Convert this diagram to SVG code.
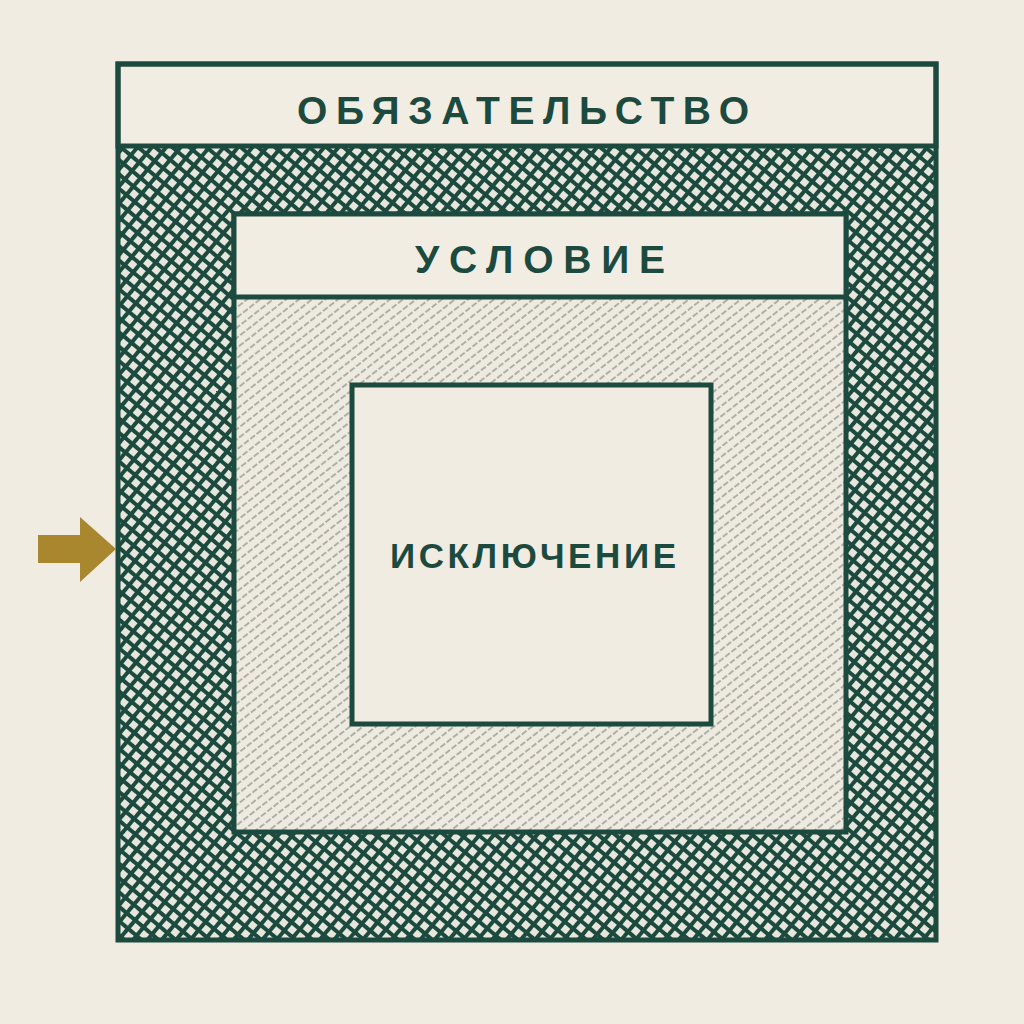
<svg xmlns="http://www.w3.org/2000/svg" width="1024" height="1024" viewBox="0 0 1024 1024">
<defs>
<pattern id="cross" width="11" height="11" patternUnits="userSpaceOnUse" patternTransform="rotate(40)">
<rect width="11" height="11" fill="#e6e6dc"/>
<rect x="0" y="0" width="11" height="4" fill="#1c4a3e"/>
<rect x="0" y="0" width="4" height="11" fill="#1c4a3e"/>
</pattern>
<pattern id="hatch" width="8" height="8" patternUnits="userSpaceOnUse" patternTransform="rotate(-38)">
<rect width="8" height="8" fill="#efeadf"/>
<line x1="0" y1="4" x2="8" y2="4" stroke="#2b4a42" stroke-width="1.1" stroke-dasharray="5 2 3 2" opacity="0.7"/>
</pattern>
<style>
.frame{stroke:#1c4a3e;stroke-width:5;}
.lbl{font-family:"Liberation Sans","Noto Sans",Arial,sans-serif;font-weight:bold;fill:#1c4a3e;font-size:39px;text-anchor:middle;}
</style>
</defs>
<rect width="1024" height="1024" fill="#f1ece1"/>
<g id="obligation">
<rect x="118" y="146" width="818" height="794" fill="url(#cross)"/>
<rect x="118" y="64" width="818" height="82" fill="#f2ede2" class="frame"/>
<rect x="118" y="64" width="818" height="876" fill="none" class="frame"/>
<text class="lbl" x="523" y="124" textLength="452" lengthAdjust="spacing">ОБЯЗАТЕЛЬСТВО</text>
</g>
<g id="condition">
<rect x="234" y="214" width="612" height="618" fill="url(#hatch)" class="frame"/>
<rect x="234" y="214" width="612" height="83" fill="#f2ede2" class="frame"/>
<text class="lbl" x="540" y="273" textLength="250" lengthAdjust="spacing">УСЛОВИЕ</text>
</g>
<g id="exception">
<rect x="352" y="385" width="359" height="339" fill="#f1ece1" class="frame"/>
<text class="lbl" x="533" y="568" style="font-size:35px" textLength="286" lengthAdjust="spacing">ИСКЛЮЧЕНИЕ</text>
</g>
<g id="connectors">
<polygon points="38,535 80,535 80,517 116,549 80,582 80,563 38,563" fill="#a8872f"/>
</g>
</svg>
